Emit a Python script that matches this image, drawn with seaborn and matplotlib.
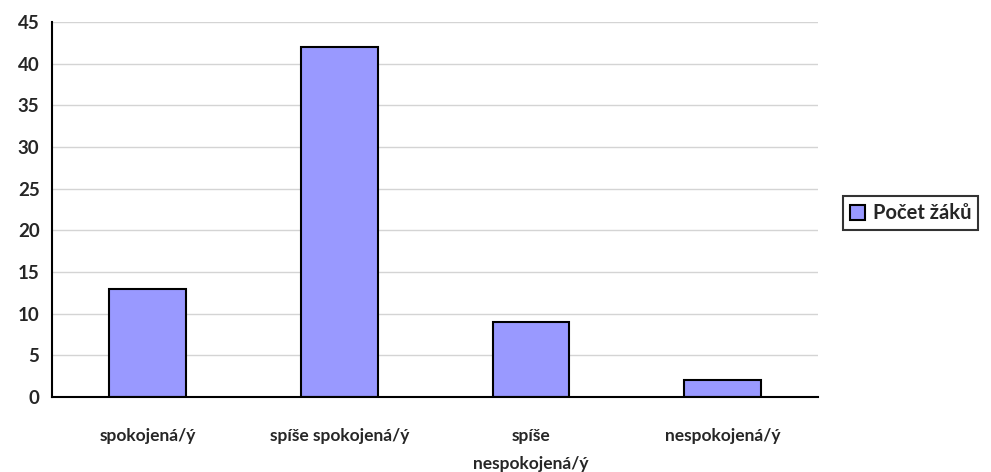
import numpy as np
import pandas as pd
import matplotlib
matplotlib.use("Agg")
import matplotlib.pyplot as plt
import seaborn as sns

categories = ["spokojená/ý", "spíše spokojená/ý", "spíše\nnespokojená/ý", "nespokojená/ý"]
counts = [13, 42, 9, 2]
series_name = "Počet žáků"
yticks = [0, 5, 10, 15, 20, 25, 30, 35, 40, 45]

data = pd.DataFrame({"kategorie": categories, "pocet": counts})

sns.set_style("white")
plt.rcParams["font.family"] = ["Lato", "DejaVu Sans"]
plt.rcParams["font.weight"] = "bold"

fig = plt.figure(figsize=(9.91, 4.72), dpi=100)
ax = fig.add_axes([0.0525, 0.159, 0.773, 0.794])

sns.barplot(data=data, x="kategorie", y="pocet", color="#9999FF", width=0.4,
            edgecolor="black", linewidth=1.5, saturation=1, label=series_name, ax=ax)

ax.set_xlim(-0.5, len(categories) - 0.5)
ax.set_ylim(0, 45)
ax.set_yticks(yticks)
ax.yaxis.grid(True, color="#D4D4D4", linewidth=1)
ax.set_axisbelow(True)

# tick marks between categories, labels centred without marks
ax.set_xticks(np.arange(len(categories)))
ax.set_xticklabels(categories, fontsize=12.5, fontweight="bold", linespacing=1.95)
ax.set_xticks(np.arange(len(categories)) + 0.5, minor=True)
ax.tick_params(axis="x", which="major", length=0, pad=22)
ax.tick_params(axis="x", which="minor", length=6, width=1.5, color="black", direction="out")
ax.tick_params(axis="y", length=5, width=1.5, color="black", direction="out", labelsize=13.5, pad=4)
for lbl in ax.get_yticklabels():
    lbl.set_fontweight("bold")

for side in ["top", "right"]:
    ax.spines[side].set_visible(False)
for side in ["left", "bottom"]:
    ax.spines[side].set_color("black")
    ax.spines[side].set_linewidth(1.5)

ax.set_xlabel("")
ax.set_ylabel("")

leg = ax.legend(loc="center left", bbox_to_anchor=(0.851, 0.548), bbox_transform=fig.transFigure,
                frameon=True, fancybox=False, edgecolor="black", handlelength=0.75, handleheight=0.75,
                handletextpad=0.35, borderpad=0.35, borderaxespad=0,
                prop={"size": 14.5, "weight": "bold"})
leg.get_frame().set_linewidth(1.5)

fig.savefig("out.png", dpi=100)
